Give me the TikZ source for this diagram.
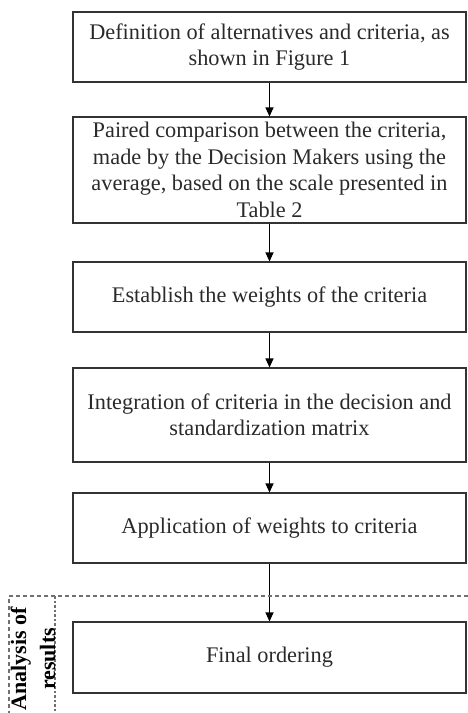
\documentclass[tikz,border=0pt]{standalone}
\usepackage{fontspec}
\setmainfont{Liberation Serif}
\usetikzlibrary{arrows.meta}
\definecolor{lineC}{HTML}{333333}
\definecolor{textC}{HTML}{2A2A2A}
\definecolor{dashC}{HTML}{707070}
\begin{document}
\begin{tikzpicture}[x=1pt,y=-1pt,
  stepbox/.style={draw=lineC, line width=1.1pt, minimum width=393pt, inner sep=0pt,
    align=center, text=textC, font=\fontsize{22.3}{26.5}\selectfont},
  flow/.style={draw=black, line width=1.1pt, -{Triangle[width=8pt,length=9pt]}},
  region/.style={draw=dashC, line width=1.3pt, dash pattern=on 4pt off 3pt}]
\useasboundingbox (0,0) rectangle (468,713);
\node[stepbox, minimum height=70pt] (b1) at (269.5,47) {Definition of alternatives and criteria, as\\shown in Figure 1};
\node[stepbox, minimum height=106pt] (b2) at (269.5,170) {Paired comparison between the criteria,\\made by the Decision Makers using the\\average, based on the scale presented in\\Table 2};
\node[stepbox, minimum height=70pt] (b3) at (269.5,297) {Establish the weights of the criteria};
\node[stepbox, minimum height=94pt] (b4) at (269.5,415) {Integration of criteria in the decision and\\standardization matrix};
\node[stepbox, minimum height=70pt] (b5) at (269.5,528) {Application of weights to criteria};
\node[stepbox, minimum height=71pt] (b6) at (269.5,657.5) {Final ordering};
\draw[flow] (b1) -- (b2);
\draw[flow] (b2) -- (b3);
\draw[flow] (b3) -- (b4);
\draw[flow] (b4) -- (b5);
\draw[flow] (b5) -- (b6);
\coordinate (tl) at (9,596);
\coordinate (tr) at (468,596);
\coordinate (bl) at (9,713);
\coordinate (il) at (55,596);
\coordinate (ib) at (55,713);
\draw[region] (tr) -- (tl) -- (bl);
\draw[region, dash pattern=on 2.5pt off 2pt] (il) -- (ib);
\node[rotate=90, align=center, font=\bfseries\fontsize{22}{29}\selectfont] (lab) at (33,659) {Analysis of\\results};
\end{tikzpicture}
\end{document}
